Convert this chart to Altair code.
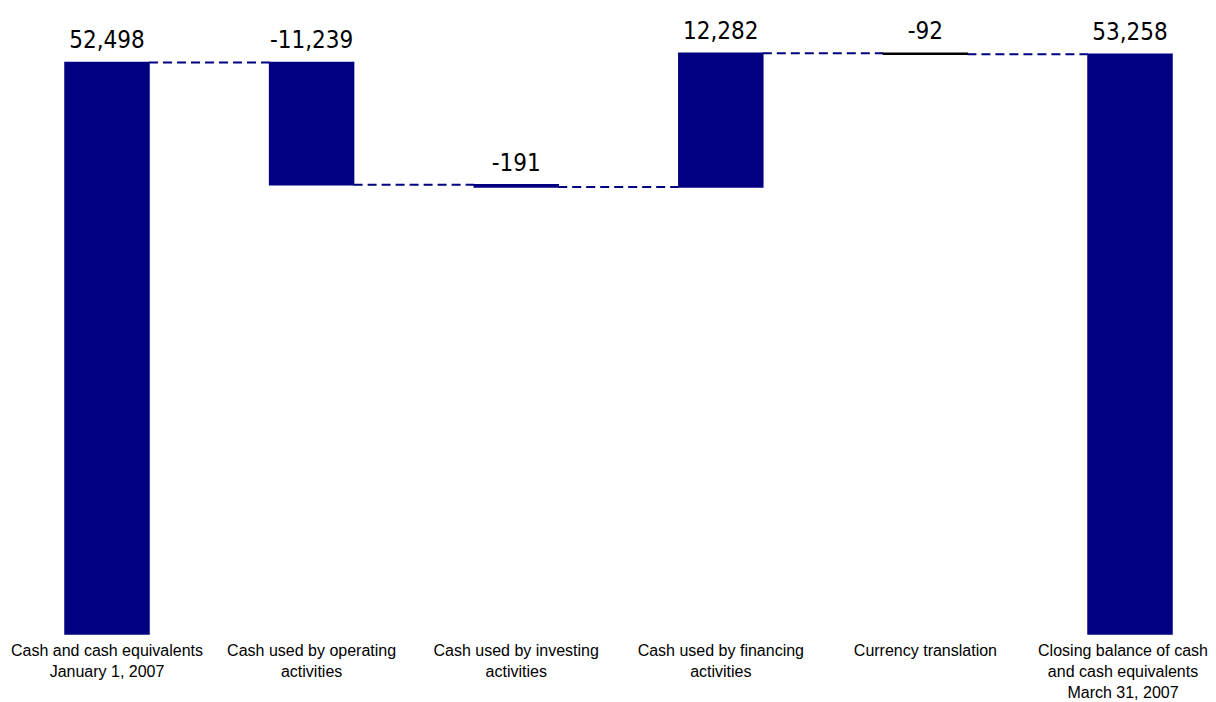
import altair as alt
import pandas as pd

categories = [
    "Cash and cash equivalents\nJanuary 1, 2007",
    "Cash used by operating\nactivities",
    "Cash used by investing\nactivities",
    "Cash used by financing\nactivities",
    "Currency translation",
    "Closing balance of cash\nand cash equivalents\nMarch 31, 2007",
]
values = [52498, -11239, -191, 12282, -92, 53258]
is_total = [True, False, False, False, False, True]
value_labels = ["52,498", "-11,239", "-191", "12,282", "-92", "53,258"]
bar_colors = ["#000080", "#000080", "#000080", "#000080", "#000000", "#000080"]

# waterfall start / end
rows = []
running = 0
for i, (c, v, t, lab, col) in enumerate(zip(categories, values, is_total, value_labels, bar_colors)):
    if t:
        start, end = 0, v
    else:
        start, end = running, running + v
    running = end
    rows.append(dict(idx=i, cat=c, start=start, end=end, top=max(start, end),
                     vlabel=lab, color=col))
df = pd.DataFrame(rows)
last_idx = len(rows) - 1

HALF = 42 / 204.6
conn = pd.DataFrame([
    dict(x=r["idx"] + HALF, x2=r["idx"] + 1 - HALF, level=r["end"])
    for r in rows[:-1]
])

W, H = 1200, 626
xscale = alt.Scale(domain=[-0.4839, 5.3812], nice=False, zero=False, padding=0)
yscale = alt.Scale(domain=[0, 57500], nice=False, padding=0)

bars = alt.Chart(df).mark_bar(size=84, strokeWidth=1.5).encode(
    x=alt.X("idx:Q", scale=xscale, axis=None),
    y=alt.Y("start:Q", scale=yscale, axis=None),
    y2="end:Q",
    fill=alt.Fill("color:N", scale=None),
    stroke=alt.Stroke("color:N", scale=None),
)

connectors = alt.Chart(conn).mark_rule(
    strokeDash=[9, 5], color="#000080", strokeWidth=2
).encode(
    x=alt.X("x:Q", scale=xscale, axis=None),
    x2="x2:Q",
    y=alt.Y("level:Q", scale=yscale, axis=None),
)

vals = alt.Chart(df).mark_text(
    baseline="alphabetic", dy=-14, fontSize=24,
    font="DejaVu Sans Condensed, sans-serif", color="black"
).encode(
    x=alt.X("idx:Q", scale=xscale, axis=None),
    y=alt.Y("top:Q", scale=yscale, axis=None),
    text="vlabel:N",
)

cat_style = dict(baseline="top", lineBreak="\n", fontSize=16, lineHeight=21,
                 font="Liberation Sans, Arial, sans-serif", color="black")

cats = alt.Chart(df).transform_filter(
    alt.datum.idx < last_idx
).mark_text(**cat_style).encode(
    x=alt.X("idx:Q", scale=xscale, axis=None),
    y=alt.value(H + 9),
    text="cat:N",
)

cats_last = alt.Chart(df).transform_filter(
    alt.datum.idx == last_idx
).mark_text(dx=-7, **cat_style).encode(
    x=alt.X("idx:Q", scale=xscale, axis=None),
    y=alt.value(H + 9),
    text="cat:N",
)

chart = alt.layer(connectors, bars, vals, cats, cats_last).properties(
    width=W, height=H, autosize="none",
    padding={"left": 0, "top": 0, "right": 0, "bottom": 66}
).configure_view(stroke=None)

chart.save("out.html", embed_options={"renderer": "svg", "actions": False})
